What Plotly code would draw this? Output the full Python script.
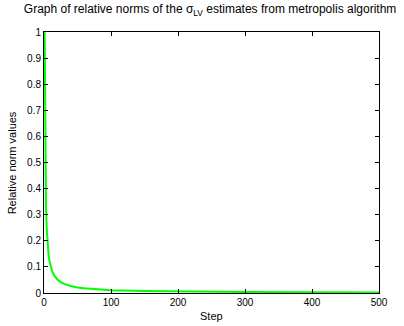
import plotly.graph_objects as go

# Relative norm of the sigma_LV estimate at selected Metropolis steps
steps = [1, 2, 3, 4, 5, 6, 7, 8, 10, 12, 15, 20, 25, 30, 40, 50, 60, 80, 100,
         150, 200, 250, 300, 400, 500]
rel_norms = [1.0, 0.5, 0.33, 0.25, 0.2, 0.165, 0.14, 0.125, 0.1, 0.085, 0.068,
             0.052, 0.042, 0.035, 0.027, 0.021, 0.018, 0.014, 0.011, 0.0075,
             0.0055, 0.0045, 0.0037, 0.0028, 0.0022]

x_ticks = [0, 100, 200, 300, 400, 500]
y_ticks = [0, 0.1, 0.2, 0.3, 0.4, 0.5, 0.6, 0.7, 0.8, 0.9, 1]
y_tick_text = ["0", "0.1", "0.2", "0.3", "0.4", "0.5", "0.6", "0.7", "0.8", "0.9", "1"]

family = "Liberation Sans, Arial, sans-serif"
font = dict(family=family, size=10, color="black")

fig = go.Figure()
fig.add_trace(go.Scatter(x=steps, y=rel_norms, mode="lines",
                         line=dict(color="#00ff00", width=2)))

axis_common = dict(showline=True, linecolor="black", linewidth=1, mirror="ticks",
                   ticks="inside", ticklen=4, tickcolor="black", showgrid=False,
                   zeroline=False, tickfont=font, automargin=False)

fig.update_layout(
    width=404, height=326,
    margin=dict(l=44, r=25, t=32, b=33),
    paper_bgcolor="white", plot_bgcolor="white",
    showlegend=False,
    font=font,
    title=dict(text="Graph of relative norms of the σ<sub>LV</sub> estimates from metropolis algorithm",
               x=0.52, xanchor="center", y=0.985, yanchor="top",
               font=dict(family=family, size=12, color="black")),
    xaxis=dict(range=[0, 500], tickvals=x_ticks, **axis_common),
    yaxis=dict(range=[0, 1], tickvals=y_ticks, ticktext=y_tick_text, **axis_common),
    annotations=[
        dict(text="Step", xref="paper", yref="paper", x=0.5, y=-0.058,
             xanchor="center", yanchor="top", showarrow=False,
             font=dict(family=family, size=11, color="black")),
        dict(text="Relative norm values", xref="paper", yref="paper", x=-0.096, y=0.5,
             xanchor="center", yanchor="middle", textangle=-90, showarrow=False,
             font=dict(family=family, size=11, color="black")),
    ],
)

fig.write_html("out.html")
